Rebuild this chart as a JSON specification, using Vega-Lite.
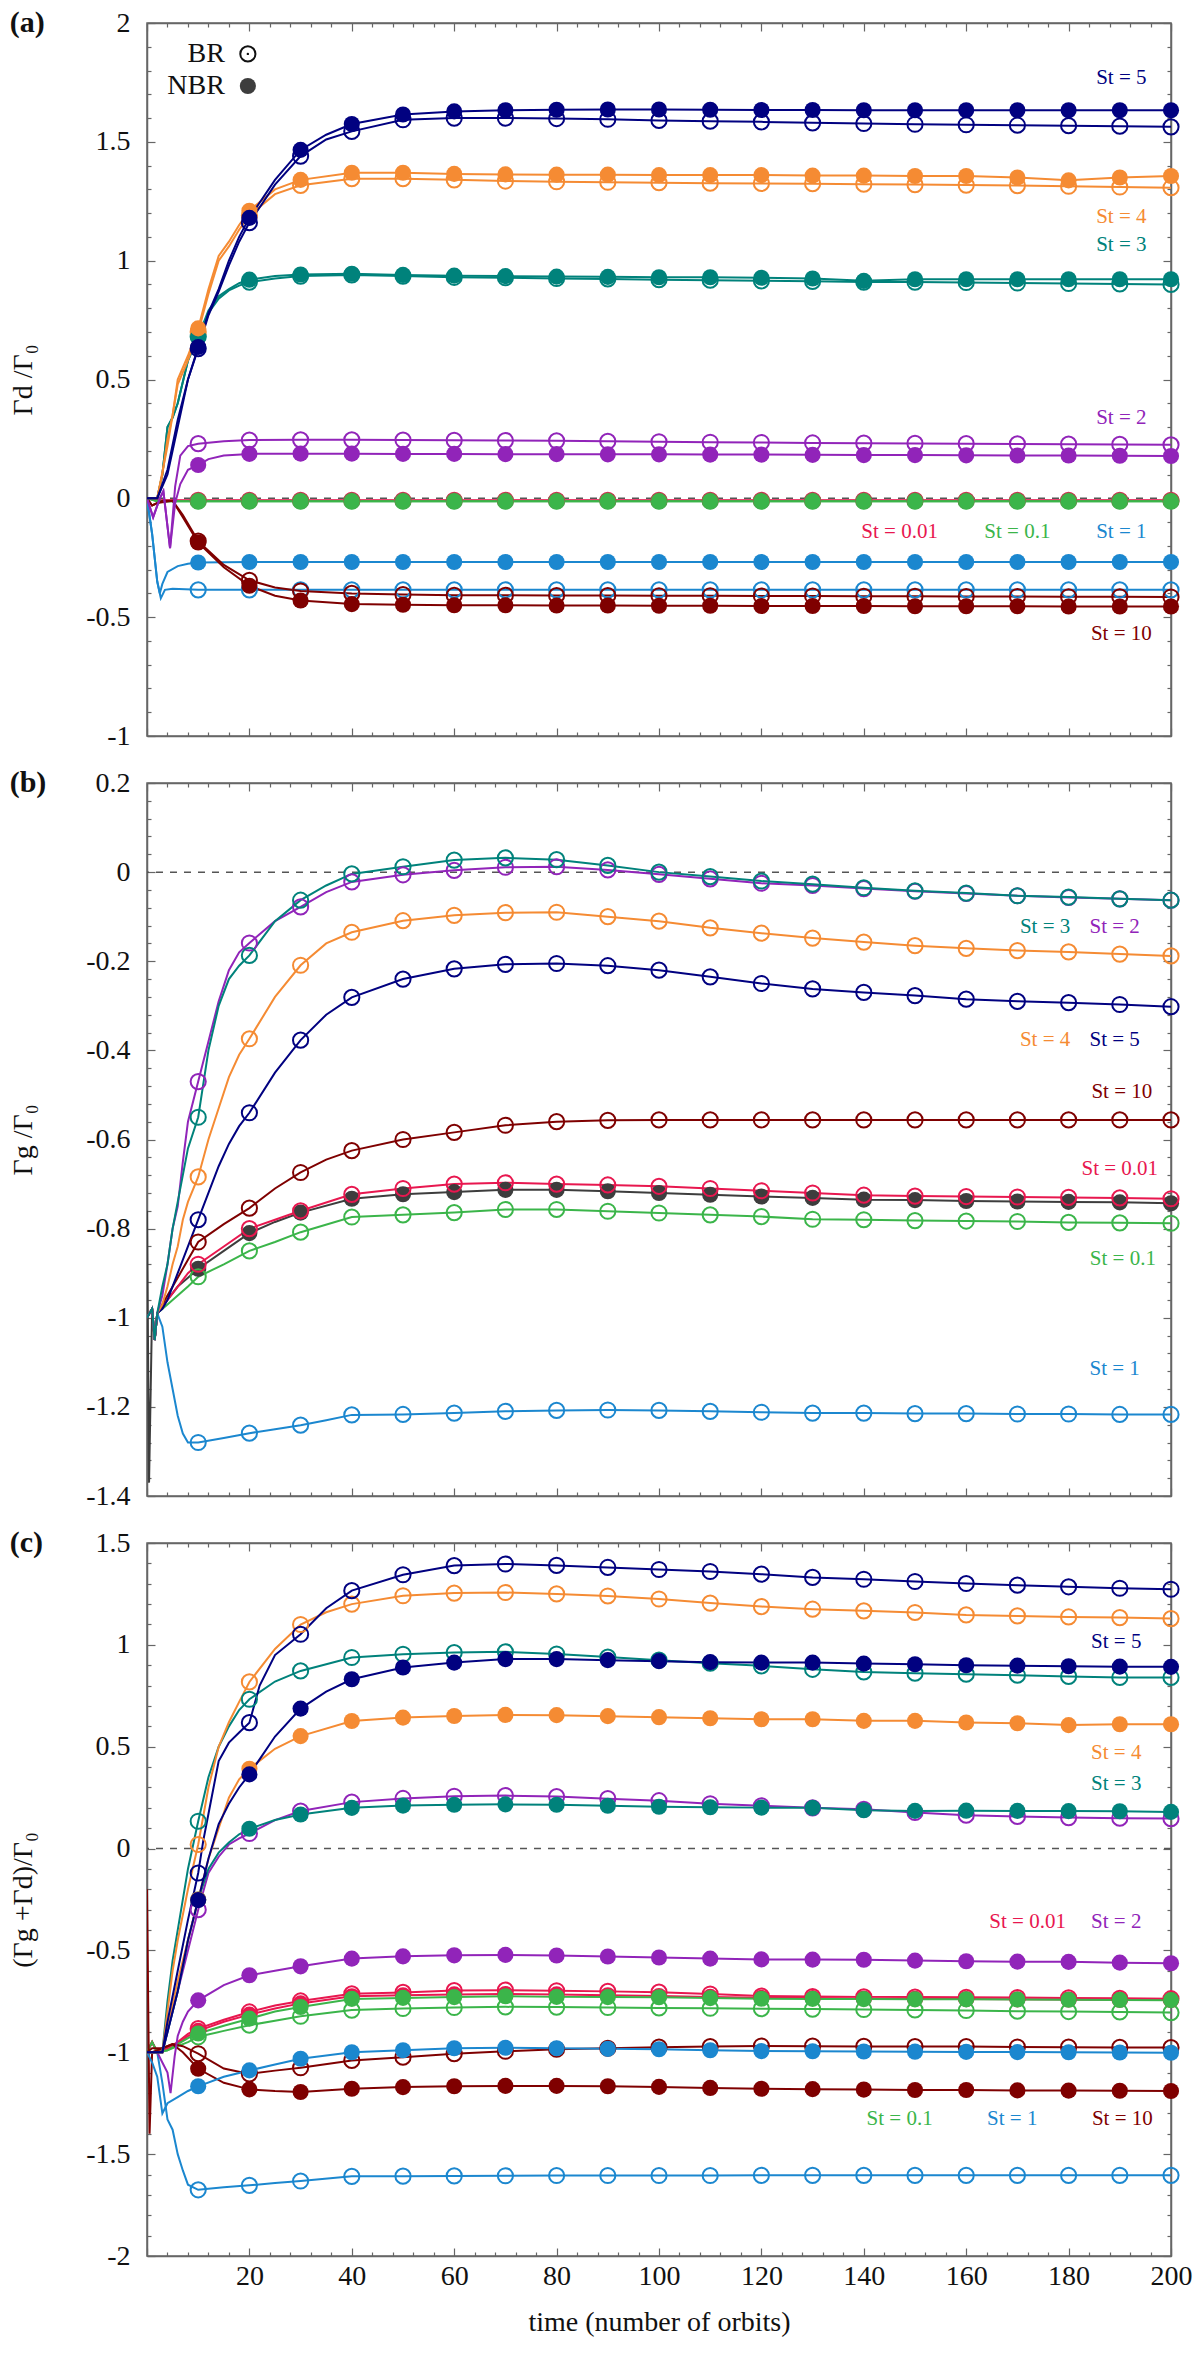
{
  "$schema": "https://vega.github.io/schema/vega-lite/v6.json",
  "background": "white",
  "padding": {"left": 8, "top": 7, "right": 12, "bottom": 8},
  "spacing": 16,
  "config": {
    "font": "Liberation Serif",
    "view": {"stroke": "#666", "strokeWidth": 1.5},
    "axis": {
      "grid": false, "domainColor": "#666", "domainWidth": 1.5, "tickColor": "#666", "tickWidth": 1.2,
      "labelFont": "Liberation Serif", "labelFontSize": 28, "labelColor": "#111",
      "titleFont": "Liberation Serif", "titleFontSize": 28, "titleFontWeight": "normal", "titleColor": "#111",
      "labelOverlap": false, "labelFlush": false
    },
    "title": {"anchor": "start", "frame": "bounds", "font": "Liberation Serif", "fontSize": 30, "fontWeight": "bold", "color": "#111", "baseline": "middle", "offset": -29}
  },
  "datasets": {
    "ax": [{"t": 0, "v": 0}],
    "zero": [{"v": 0}],
    "leg": [
      {"tt": 15.2, "ts": 19.7, "v": 1.87, "txt": "BR", "k": "B"},
      {"tt": 15.2, "ts": 19.7, "v": 1.735, "txt": "NBR", "k": "N"}
    ],
    "labels": [
      {"p": "a", "s": "5", "t": 190.3, "v": 1.767, "txt": "St = 5"},
      {"p": "a", "s": "4", "t": 190.3, "v": 1.184, "txt": "St = 4"},
      {"p": "a", "s": "3", "t": 190.3, "v": 1.066, "txt": "St = 3"},
      {"p": "a", "s": "2", "t": 190.3, "v": 0.34, "txt": "St = 2"},
      {"p": "a", "s": "0.01", "t": 147, "v": -0.14, "txt": "St = 0.01"},
      {"p": "a", "s": "0.1", "t": 170, "v": -0.14, "txt": "St = 0.1"},
      {"p": "a", "s": "1", "t": 190.3, "v": -0.14, "txt": "St = 1"},
      {"p": "a", "s": "10", "t": 190.3, "v": -0.57, "txt": "St = 10"},
      {"p": "b", "s": "3", "t": 175.4, "v": -0.123, "txt": "St = 3"},
      {"p": "b", "s": "2", "t": 189, "v": -0.123, "txt": "St = 2"},
      {"p": "b", "s": "4", "t": 175.4, "v": -0.376, "txt": "St = 4"},
      {"p": "b", "s": "5", "t": 189, "v": -0.376, "txt": "St = 5"},
      {"p": "b", "s": "10", "t": 190.4, "v": -0.494, "txt": "St = 10"},
      {"p": "b", "s": "0.01", "t": 190, "v": -0.666, "txt": "St = 0.01"},
      {"p": "b", "s": "0.1", "t": 190.6, "v": -0.868, "txt": "St = 0.1"},
      {"p": "b", "s": "1", "t": 189, "v": -1.115, "txt": "St = 1"},
      {"p": "c", "s": "5", "t": 189.3, "v": 1.014, "txt": "St = 5"},
      {"p": "c", "s": "4", "t": 189.3, "v": 0.468, "txt": "St = 4"},
      {"p": "c", "s": "3", "t": 189.3, "v": 0.316, "txt": "St = 3"},
      {"p": "c", "s": "0.01", "t": 172, "v": -0.361, "txt": "St = 0.01"},
      {"p": "c", "s": "2", "t": 189.3, "v": -0.361, "txt": "St = 2"},
      {"p": "c", "s": "0.1", "t": 147, "v": -1.326, "txt": "St = 0.1"},
      {"p": "c", "s": "1", "t": 169, "v": -1.326, "txt": "St = 1"},
      {"p": "c", "s": "10", "t": 190.5, "v": -1.326, "txt": "St = 10"}
    ],
    "la": [
      {"s":"0.01","k":"B","t":0,"v":0},{"s":"0.01","k":"B","t":2,"v":-0.008},{"s":"0.01","k":"B","t":10,"v":-0.008},{"s":"0.01","k":"B","t":20,"v":-0.008},{"s":"0.01","k":"B","t":30,"v":-0.008},{"s":"0.01","k":"B","t":40,"v":-0.008},{"s":"0.01","k":"B","t":50,"v":-0.008},{"s":"0.01","k":"B","t":60,"v":-0.008},{"s":"0.01","k":"B","t":70,"v":-0.008},{"s":"0.01","k":"B","t":80,"v":-0.008},{"s":"0.01","k":"B","t":90,"v":-0.008},{"s":"0.01","k":"B","t":100,"v":-0.008},{"s":"0.01","k":"B","t":110,"v":-0.008},{"s":"0.01","k":"B","t":120,"v":-0.008},{"s":"0.01","k":"B","t":130,"v":-0.008},{"s":"0.01","k":"B","t":140,"v":-0.008},{"s":"0.01","k":"B","t":150,"v":-0.008},{"s":"0.01","k":"B","t":160,"v":-0.008},{"s":"0.01","k":"B","t":170,"v":-0.008},{"s":"0.01","k":"B","t":180,"v":-0.008},{"s":"0.01","k":"B","t":190,"v":-0.008},{"s":"0.01","k":"B","t":200,"v":-0.008},
      {"s":"0.01","k":"N","t":0,"v":0},{"s":"0.01","k":"N","t":2,"v":-0.01},{"s":"0.01","k":"N","t":10,"v":-0.01},{"s":"0.01","k":"N","t":20,"v":-0.01},{"s":"0.01","k":"N","t":30,"v":-0.01},{"s":"0.01","k":"N","t":40,"v":-0.01},{"s":"0.01","k":"N","t":50,"v":-0.01},{"s":"0.01","k":"N","t":60,"v":-0.01},{"s":"0.01","k":"N","t":70,"v":-0.01},{"s":"0.01","k":"N","t":80,"v":-0.01},{"s":"0.01","k":"N","t":90,"v":-0.01},{"s":"0.01","k":"N","t":100,"v":-0.01},{"s":"0.01","k":"N","t":110,"v":-0.01},{"s":"0.01","k":"N","t":120,"v":-0.01},{"s":"0.01","k":"N","t":130,"v":-0.01},{"s":"0.01","k":"N","t":140,"v":-0.01},{"s":"0.01","k":"N","t":150,"v":-0.01},{"s":"0.01","k":"N","t":160,"v":-0.01},{"s":"0.01","k":"N","t":170,"v":-0.01},{"s":"0.01","k":"N","t":180,"v":-0.01},{"s":"0.01","k":"N","t":190,"v":-0.01},{"s":"0.01","k":"N","t":200,"v":-0.01},
      {"s":"0.1","k":"B","t":0,"v":0},{"s":"0.1","k":"B","t":2,"v":-0.012},{"s":"0.1","k":"B","t":10,"v":-0.012},{"s":"0.1","k":"B","t":20,"v":-0.012},{"s":"0.1","k":"B","t":30,"v":-0.012},{"s":"0.1","k":"B","t":40,"v":-0.012},{"s":"0.1","k":"B","t":50,"v":-0.012},{"s":"0.1","k":"B","t":60,"v":-0.012},{"s":"0.1","k":"B","t":70,"v":-0.012},{"s":"0.1","k":"B","t":80,"v":-0.012},{"s":"0.1","k":"B","t":90,"v":-0.012},{"s":"0.1","k":"B","t":100,"v":-0.012},{"s":"0.1","k":"B","t":110,"v":-0.012},{"s":"0.1","k":"B","t":120,"v":-0.012},{"s":"0.1","k":"B","t":130,"v":-0.012},{"s":"0.1","k":"B","t":140,"v":-0.012},{"s":"0.1","k":"B","t":150,"v":-0.012},{"s":"0.1","k":"B","t":160,"v":-0.012},{"s":"0.1","k":"B","t":170,"v":-0.012},{"s":"0.1","k":"B","t":180,"v":-0.012},{"s":"0.1","k":"B","t":190,"v":-0.012},{"s":"0.1","k":"B","t":200,"v":-0.012},
      {"s":"0.1","k":"N","t":0,"v":0},{"s":"0.1","k":"N","t":2,"v":-0.012},{"s":"0.1","k":"N","t":10,"v":-0.012},{"s":"0.1","k":"N","t":20,"v":-0.012},{"s":"0.1","k":"N","t":30,"v":-0.012},{"s":"0.1","k":"N","t":40,"v":-0.012},{"s":"0.1","k":"N","t":50,"v":-0.012},{"s":"0.1","k":"N","t":60,"v":-0.012},{"s":"0.1","k":"N","t":70,"v":-0.012},{"s":"0.1","k":"N","t":80,"v":-0.012},{"s":"0.1","k":"N","t":90,"v":-0.012},{"s":"0.1","k":"N","t":100,"v":-0.012},{"s":"0.1","k":"N","t":110,"v":-0.012},{"s":"0.1","k":"N","t":120,"v":-0.012},{"s":"0.1","k":"N","t":130,"v":-0.012},{"s":"0.1","k":"N","t":140,"v":-0.012},{"s":"0.1","k":"N","t":150,"v":-0.012},{"s":"0.1","k":"N","t":160,"v":-0.012},{"s":"0.1","k":"N","t":170,"v":-0.012},{"s":"0.1","k":"N","t":180,"v":-0.012},{"s":"0.1","k":"N","t":190,"v":-0.012},{"s":"0.1","k":"N","t":200,"v":-0.012},
      {"s":"1","k":"B","t":0,"v":0},{"s":"1","k":"B","t":1,"v":-0.15},{"s":"1","k":"B","t":2,"v":-0.35},{"s":"1","k":"B","t":2.7,"v":-0.42},{"s":"1","k":"B","t":3.5,"v":-0.385},{"s":"1","k":"B","t":5,"v":-0.38},{"s":"1","k":"B","t":10,"v":-0.385},{"s":"1","k":"B","t":20,"v":-0.385},{"s":"1","k":"B","t":30,"v":-0.385},{"s":"1","k":"B","t":40,"v":-0.385},{"s":"1","k":"B","t":50,"v":-0.385},{"s":"1","k":"B","t":60,"v":-0.385},{"s":"1","k":"B","t":70,"v":-0.385},{"s":"1","k":"B","t":80,"v":-0.385},{"s":"1","k":"B","t":90,"v":-0.385},{"s":"1","k":"B","t":100,"v":-0.385},{"s":"1","k":"B","t":110,"v":-0.385},{"s":"1","k":"B","t":120,"v":-0.385},{"s":"1","k":"B","t":130,"v":-0.385},{"s":"1","k":"B","t":140,"v":-0.385},{"s":"1","k":"B","t":150,"v":-0.385},{"s":"1","k":"B","t":160,"v":-0.385},{"s":"1","k":"B","t":170,"v":-0.385},{"s":"1","k":"B","t":180,"v":-0.385},{"s":"1","k":"B","t":190,"v":-0.385},{"s":"1","k":"B","t":200,"v":-0.385},
      {"s":"1","k":"N","t":0,"v":0},{"s":"1","k":"N","t":1,"v":-0.15},{"s":"1","k":"N","t":2,"v":-0.35},{"s":"1","k":"N","t":2.5,"v":-0.4},{"s":"1","k":"N","t":3,"v":-0.36},{"s":"1","k":"N","t":4,"v":-0.31},{"s":"1","k":"N","t":6,"v":-0.285},{"s":"1","k":"N","t":8,"v":-0.275},{"s":"1","k":"N","t":10,"v":-0.27},{"s":"1","k":"N","t":20,"v":-0.268},{"s":"1","k":"N","t":30,"v":-0.268},{"s":"1","k":"N","t":40,"v":-0.268},{"s":"1","k":"N","t":50,"v":-0.268},{"s":"1","k":"N","t":60,"v":-0.268},{"s":"1","k":"N","t":70,"v":-0.268},{"s":"1","k":"N","t":80,"v":-0.268},{"s":"1","k":"N","t":90,"v":-0.268},{"s":"1","k":"N","t":100,"v":-0.268},{"s":"1","k":"N","t":110,"v":-0.268},{"s":"1","k":"N","t":120,"v":-0.268},{"s":"1","k":"N","t":130,"v":-0.268},{"s":"1","k":"N","t":140,"v":-0.268},{"s":"1","k":"N","t":150,"v":-0.268},{"s":"1","k":"N","t":160,"v":-0.268},{"s":"1","k":"N","t":170,"v":-0.268},{"s":"1","k":"N","t":180,"v":-0.268},{"s":"1","k":"N","t":190,"v":-0.268},{"s":"1","k":"N","t":200,"v":-0.268},
      {"s":"10","k":"B","t":0,"v":0},{"s":"10","k":"B","t":1,"v":-0.03},{"s":"10","k":"B","t":2,"v":-0.02},{"s":"10","k":"B","t":5,"v":-0.01},{"s":"10","k":"B","t":7,"v":-0.07},{"s":"10","k":"B","t":10,"v":-0.18},{"s":"10","k":"B","t":15,"v":-0.28},{"s":"10","k":"B","t":20,"v":-0.345},{"s":"10","k":"B","t":25,"v":-0.375},{"s":"10","k":"B","t":30,"v":-0.39},{"s":"10","k":"B","t":40,"v":-0.4},{"s":"10","k":"B","t":50,"v":-0.405},{"s":"10","k":"B","t":60,"v":-0.408},{"s":"10","k":"B","t":70,"v":-0.408},{"s":"10","k":"B","t":80,"v":-0.409},{"s":"10","k":"B","t":90,"v":-0.409},{"s":"10","k":"B","t":100,"v":-0.41},{"s":"10","k":"B","t":110,"v":-0.41},{"s":"10","k":"B","t":120,"v":-0.411},{"s":"10","k":"B","t":130,"v":-0.411},{"s":"10","k":"B","t":140,"v":-0.412},{"s":"10","k":"B","t":150,"v":-0.412},{"s":"10","k":"B","t":160,"v":-0.413},{"s":"10","k":"B","t":170,"v":-0.413},{"s":"10","k":"B","t":180,"v":-0.414},{"s":"10","k":"B","t":190,"v":-0.414},{"s":"10","k":"B","t":200,"v":-0.415},
      {"s":"10","k":"N","t":0,"v":0},{"s":"10","k":"N","t":1,"v":-0.03},{"s":"10","k":"N","t":2,"v":-0.02},{"s":"10","k":"N","t":3,"v":-0.01},{"s":"10","k":"N","t":5,"v":-0.01},{"s":"10","k":"N","t":7,"v":-0.08},{"s":"10","k":"N","t":10,"v":-0.186},{"s":"10","k":"N","t":15,"v":-0.29},{"s":"10","k":"N","t":20,"v":-0.368},{"s":"10","k":"N","t":25,"v":-0.41},{"s":"10","k":"N","t":30,"v":-0.43},{"s":"10","k":"N","t":40,"v":-0.445},{"s":"10","k":"N","t":50,"v":-0.448},{"s":"10","k":"N","t":60,"v":-0.45},{"s":"10","k":"N","t":70,"v":-0.45},{"s":"10","k":"N","t":80,"v":-0.451},{"s":"10","k":"N","t":90,"v":-0.451},{"s":"10","k":"N","t":100,"v":-0.452},{"s":"10","k":"N","t":110,"v":-0.452},{"s":"10","k":"N","t":120,"v":-0.453},{"s":"10","k":"N","t":130,"v":-0.453},{"s":"10","k":"N","t":140,"v":-0.453},{"s":"10","k":"N","t":150,"v":-0.454},{"s":"10","k":"N","t":160,"v":-0.454},{"s":"10","k":"N","t":170,"v":-0.454},{"s":"10","k":"N","t":180,"v":-0.455},{"s":"10","k":"N","t":190,"v":-0.455},{"s":"10","k":"N","t":200,"v":-0.455},
      {"s":"2","k":"B","t":0,"v":0},{"s":"2","k":"B","t":1.2,"v":-0.08},{"s":"2","k":"B","t":2.5,"v":0},{"s":"2","k":"B","t":3.2,"v":0.03},{"s":"2","k":"B","t":4.5,"v":-0.21},{"s":"2","k":"B","t":5.5,"v":0.05},{"s":"2","k":"B","t":6.5,"v":0.18},{"s":"2","k":"B","t":8,"v":0.22},{"s":"2","k":"B","t":10,"v":0.23},{"s":"2","k":"B","t":15,"v":0.24},{"s":"2","k":"B","t":20,"v":0.245},{"s":"2","k":"B","t":30,"v":0.246},{"s":"2","k":"B","t":40,"v":0.246},{"s":"2","k":"B","t":50,"v":0.245},{"s":"2","k":"B","t":60,"v":0.244},{"s":"2","k":"B","t":70,"v":0.243},{"s":"2","k":"B","t":80,"v":0.242},{"s":"2","k":"B","t":90,"v":0.24},{"s":"2","k":"B","t":100,"v":0.238},{"s":"2","k":"B","t":110,"v":0.236},{"s":"2","k":"B","t":120,"v":0.235},{"s":"2","k":"B","t":130,"v":0.233},{"s":"2","k":"B","t":140,"v":0.232},{"s":"2","k":"B","t":150,"v":0.231},{"s":"2","k":"B","t":160,"v":0.23},{"s":"2","k":"B","t":170,"v":0.229},{"s":"2","k":"B","t":180,"v":0.228},{"s":"2","k":"B","t":190,"v":0.227},{"s":"2","k":"B","t":200,"v":0.225},
      {"s":"2","k":"N","t":0,"v":0},{"s":"2","k":"N","t":1.2,"v":-0.08},{"s":"2","k":"N","t":2.5,"v":0},{"s":"2","k":"N","t":3.2,"v":0.03},{"s":"2","k":"N","t":4.5,"v":-0.21},{"s":"2","k":"N","t":5.5,"v":-0.02},{"s":"2","k":"N","t":6.5,"v":0.06},{"s":"2","k":"N","t":8,"v":0.12},{"s":"2","k":"N","t":10,"v":0.14},{"s":"2","k":"N","t":12,"v":0.165},{"s":"2","k":"N","t":15,"v":0.18},{"s":"2","k":"N","t":20,"v":0.187},{"s":"2","k":"N","t":30,"v":0.188},{"s":"2","k":"N","t":40,"v":0.188},{"s":"2","k":"N","t":50,"v":0.187},{"s":"2","k":"N","t":60,"v":0.187},{"s":"2","k":"N","t":70,"v":0.186},{"s":"2","k":"N","t":80,"v":0.186},{"s":"2","k":"N","t":90,"v":0.185},{"s":"2","k":"N","t":100,"v":0.185},{"s":"2","k":"N","t":110,"v":0.184},{"s":"2","k":"N","t":120,"v":0.184},{"s":"2","k":"N","t":130,"v":0.183},{"s":"2","k":"N","t":140,"v":0.182},{"s":"2","k":"N","t":150,"v":0.182},{"s":"2","k":"N","t":160,"v":0.181},{"s":"2","k":"N","t":170,"v":0.18},{"s":"2","k":"N","t":180,"v":0.18},{"s":"2","k":"N","t":190,"v":0.179},{"s":"2","k":"N","t":200,"v":0.178},
      {"s":"3","k":"B","t":0,"v":0},{"s":"3","k":"B","t":2,"v":0},{"s":"3","k":"B","t":3,"v":0.1},{"s":"3","k":"B","t":4,"v":0.3},{"s":"3","k":"B","t":5,"v":0.34},{"s":"3","k":"B","t":6,"v":0.4},{"s":"3","k":"B","t":8,"v":0.58},{"s":"3","k":"B","t":10,"v":0.68},{"s":"3","k":"B","t":12,"v":0.78},{"s":"3","k":"B","t":14,"v":0.84},{"s":"3","k":"B","t":16,"v":0.875},{"s":"3","k":"B","t":18,"v":0.895},{"s":"3","k":"B","t":20,"v":0.91},{"s":"3","k":"B","t":25,"v":0.925},{"s":"3","k":"B","t":30,"v":0.935},{"s":"3","k":"B","t":40,"v":0.94},{"s":"3","k":"B","t":50,"v":0.935},{"s":"3","k":"B","t":60,"v":0.93},{"s":"3","k":"B","t":70,"v":0.928},{"s":"3","k":"B","t":80,"v":0.925},{"s":"3","k":"B","t":90,"v":0.923},{"s":"3","k":"B","t":100,"v":0.92},{"s":"3","k":"B","t":110,"v":0.918},{"s":"3","k":"B","t":120,"v":0.915},{"s":"3","k":"B","t":130,"v":0.913},{"s":"3","k":"B","t":140,"v":0.91},{"s":"3","k":"B","t":150,"v":0.91},{"s":"3","k":"B","t":160,"v":0.908},{"s":"3","k":"B","t":170,"v":0.906},{"s":"3","k":"B","t":180,"v":0.904},{"s":"3","k":"B","t":190,"v":0.902},{"s":"3","k":"B","t":200,"v":0.9},
      {"s":"3","k":"N","t":0,"v":0},{"s":"3","k":"N","t":2,"v":0},{"s":"3","k":"N","t":3,"v":0.1},{"s":"3","k":"N","t":4,"v":0.3},{"s":"3","k":"N","t":5,"v":0.34},{"s":"3","k":"N","t":6,"v":0.4},{"s":"3","k":"N","t":8,"v":0.58},{"s":"3","k":"N","t":10,"v":0.68},{"s":"3","k":"N","t":12,"v":0.79},{"s":"3","k":"N","t":14,"v":0.85},{"s":"3","k":"N","t":16,"v":0.88},{"s":"3","k":"N","t":18,"v":0.905},{"s":"3","k":"N","t":20,"v":0.92},{"s":"3","k":"N","t":25,"v":0.935},{"s":"3","k":"N","t":30,"v":0.942},{"s":"3","k":"N","t":40,"v":0.945},{"s":"3","k":"N","t":50,"v":0.94},{"s":"3","k":"N","t":60,"v":0.937},{"s":"3","k":"N","t":70,"v":0.935},{"s":"3","k":"N","t":80,"v":0.933},{"s":"3","k":"N","t":90,"v":0.932},{"s":"3","k":"N","t":100,"v":0.93},{"s":"3","k":"N","t":110,"v":0.93},{"s":"3","k":"N","t":120,"v":0.928},{"s":"3","k":"N","t":130,"v":0.925},{"s":"3","k":"N","t":140,"v":0.915},{"s":"3","k":"N","t":150,"v":0.922},{"s":"3","k":"N","t":160,"v":0.922},{"s":"3","k":"N","t":170,"v":0.922},{"s":"3","k":"N","t":180,"v":0.922},{"s":"3","k":"N","t":190,"v":0.922},{"s":"3","k":"N","t":200,"v":0.922},
      {"s":"4","k":"B","t":0,"v":0},{"s":"4","k":"B","t":2,"v":0},{"s":"4","k":"B","t":4,"v":0.22},{"s":"4","k":"B","t":6,"v":0.48},{"s":"4","k":"B","t":8,"v":0.58},{"s":"4","k":"B","t":10,"v":0.7},{"s":"4","k":"B","t":12,"v":0.86},{"s":"4","k":"B","t":14,"v":1.0},{"s":"4","k":"B","t":16,"v":1.06},{"s":"4","k":"B","t":18,"v":1.13},{"s":"4","k":"B","t":20,"v":1.19},{"s":"4","k":"B","t":25,"v":1.28},{"s":"4","k":"B","t":30,"v":1.317},{"s":"4","k":"B","t":40,"v":1.345},{"s":"4","k":"B","t":50,"v":1.345},{"s":"4","k":"B","t":60,"v":1.34},{"s":"4","k":"B","t":70,"v":1.335},{"s":"4","k":"B","t":80,"v":1.332},{"s":"4","k":"B","t":90,"v":1.33},{"s":"4","k":"B","t":100,"v":1.328},{"s":"4","k":"B","t":110,"v":1.326},{"s":"4","k":"B","t":120,"v":1.325},{"s":"4","k":"B","t":130,"v":1.324},{"s":"4","k":"B","t":140,"v":1.322},{"s":"4","k":"B","t":150,"v":1.32},{"s":"4","k":"B","t":160,"v":1.318},{"s":"4","k":"B","t":170,"v":1.316},{"s":"4","k":"B","t":180,"v":1.313},{"s":"4","k":"B","t":190,"v":1.31},{"s":"4","k":"B","t":200,"v":1.307},
      {"s":"4","k":"N","t":0,"v":0},{"s":"4","k":"N","t":2,"v":0},{"s":"4","k":"N","t":3,"v":0.1},{"s":"4","k":"N","t":4,"v":0.25},{"s":"4","k":"N","t":5,"v":0.35},{"s":"4","k":"N","t":6,"v":0.5},{"s":"4","k":"N","t":8,"v":0.6},{"s":"4","k":"N","t":10,"v":0.715},{"s":"4","k":"N","t":12,"v":0.88},{"s":"4","k":"N","t":14,"v":1.02},{"s":"4","k":"N","t":16,"v":1.08},{"s":"4","k":"N","t":18,"v":1.15},{"s":"4","k":"N","t":20,"v":1.21},{"s":"4","k":"N","t":25,"v":1.3},{"s":"4","k":"N","t":30,"v":1.34},{"s":"4","k":"N","t":40,"v":1.37},{"s":"4","k":"N","t":50,"v":1.37},{"s":"4","k":"N","t":60,"v":1.365},{"s":"4","k":"N","t":70,"v":1.363},{"s":"4","k":"N","t":80,"v":1.362},{"s":"4","k":"N","t":90,"v":1.362},{"s":"4","k":"N","t":100,"v":1.36},{"s":"4","k":"N","t":110,"v":1.36},{"s":"4","k":"N","t":120,"v":1.36},{"s":"4","k":"N","t":130,"v":1.358},{"s":"4","k":"N","t":140,"v":1.358},{"s":"4","k":"N","t":150,"v":1.356},{"s":"4","k":"N","t":160,"v":1.356},{"s":"4","k":"N","t":170,"v":1.35},{"s":"4","k":"N","t":180,"v":1.338},{"s":"4","k":"N","t":190,"v":1.35},{"s":"4","k":"N","t":200,"v":1.356},
      {"s":"5","k":"B","t":0,"v":0},{"s":"5","k":"B","t":2,"v":0},{"s":"5","k":"B","t":4,"v":0.1},{"s":"5","k":"B","t":6,"v":0.3},{"s":"5","k":"B","t":8,"v":0.5},{"s":"5","k":"B","t":10,"v":0.63},{"s":"5","k":"B","t":12,"v":0.77},{"s":"5","k":"B","t":14,"v":0.87},{"s":"5","k":"B","t":16,"v":0.98},{"s":"5","k":"B","t":18,"v":1.08},{"s":"5","k":"B","t":20,"v":1.16},{"s":"5","k":"B","t":25,"v":1.32},{"s":"5","k":"B","t":30,"v":1.44},{"s":"5","k":"B","t":35,"v":1.51},{"s":"5","k":"B","t":40,"v":1.544},{"s":"5","k":"B","t":50,"v":1.593},{"s":"5","k":"B","t":60,"v":1.6},{"s":"5","k":"B","t":70,"v":1.6},{"s":"5","k":"B","t":80,"v":1.598},{"s":"5","k":"B","t":90,"v":1.595},{"s":"5","k":"B","t":100,"v":1.59},{"s":"5","k":"B","t":110,"v":1.587},{"s":"5","k":"B","t":120,"v":1.584},{"s":"5","k":"B","t":130,"v":1.58},{"s":"5","k":"B","t":140,"v":1.577},{"s":"5","k":"B","t":150,"v":1.574},{"s":"5","k":"B","t":160,"v":1.572},{"s":"5","k":"B","t":170,"v":1.57},{"s":"5","k":"B","t":180,"v":1.568},{"s":"5","k":"B","t":190,"v":1.566},{"s":"5","k":"B","t":200,"v":1.563},
      {"s":"5","k":"N","t":0,"v":0},{"s":"5","k":"N","t":2,"v":0},{"s":"5","k":"N","t":4,"v":0.12},{"s":"5","k":"N","t":6,"v":0.33},{"s":"5","k":"N","t":8,"v":0.5},{"s":"5","k":"N","t":10,"v":0.637},{"s":"5","k":"N","t":12,"v":0.78},{"s":"5","k":"N","t":14,"v":0.88},{"s":"5","k":"N","t":16,"v":1.0},{"s":"5","k":"N","t":18,"v":1.1},{"s":"5","k":"N","t":20,"v":1.18},{"s":"5","k":"N","t":25,"v":1.34},{"s":"5","k":"N","t":30,"v":1.466},{"s":"5","k":"N","t":35,"v":1.53},{"s":"5","k":"N","t":40,"v":1.575},{"s":"5","k":"N","t":50,"v":1.615},{"s":"5","k":"N","t":60,"v":1.628},{"s":"5","k":"N","t":70,"v":1.633},{"s":"5","k":"N","t":80,"v":1.635},{"s":"5","k":"N","t":90,"v":1.636},{"s":"5","k":"N","t":100,"v":1.636},{"s":"5","k":"N","t":110,"v":1.635},{"s":"5","k":"N","t":120,"v":1.634},{"s":"5","k":"N","t":130,"v":1.634},{"s":"5","k":"N","t":140,"v":1.633},{"s":"5","k":"N","t":150,"v":1.633},{"s":"5","k":"N","t":160,"v":1.633},{"s":"5","k":"N","t":170,"v":1.633},{"s":"5","k":"N","t":180,"v":1.633},{"s":"5","k":"N","t":190,"v":1.633},{"s":"5","k":"N","t":200,"v":1.633}
    ],
    "lb": [
      {"s":"gas","k":"G","t":0,"v":-0.76},{"s":"gas","k":"G","t":0.4,"v":-1.37},{"s":"gas","k":"G","t":1,"v":-0.98},{"s":"gas","k":"G","t":1.5,"v":-1.05},{"s":"gas","k":"G","t":2,"v":-0.99},{"s":"gas","k":"G","t":4,"v":-0.96},{"s":"gas","k":"G","t":6,"v":-0.93},{"s":"gas","k":"G","t":8,"v":-0.91},{"s":"gas","k":"G","t":10,"v":-0.89},{"s":"gas","k":"G","t":15,"v":-0.85},{"s":"gas","k":"G","t":20,"v":-0.81},{"s":"gas","k":"G","t":25,"v":-0.785},{"s":"gas","k":"G","t":30,"v":-0.764},{"s":"gas","k":"G","t":40,"v":-0.733},{"s":"gas","k":"G","t":50,"v":-0.723},{"s":"gas","k":"G","t":60,"v":-0.718},{"s":"gas","k":"G","t":70,"v":-0.713},{"s":"gas","k":"G","t":80,"v":-0.713},{"s":"gas","k":"G","t":90,"v":-0.716},{"s":"gas","k":"G","t":100,"v":-0.72},{"s":"gas","k":"G","t":110,"v":-0.724},{"s":"gas","k":"G","t":120,"v":-0.728},{"s":"gas","k":"G","t":130,"v":-0.731},{"s":"gas","k":"G","t":140,"v":-0.735},{"s":"gas","k":"G","t":150,"v":-0.736},{"s":"gas","k":"G","t":160,"v":-0.738},{"s":"gas","k":"G","t":170,"v":-0.739},{"s":"gas","k":"G","t":180,"v":-0.74},{"s":"gas","k":"G","t":190,"v":-0.741},{"s":"gas","k":"G","t":200,"v":-0.743},
      {"s":"0.1","k":"B","t":0,"v":-1.0},{"s":"0.1","k":"B","t":1,"v":-0.98},{"s":"0.1","k":"B","t":1.5,"v":-1.05},{"s":"0.1","k":"B","t":2,"v":-0.99},{"s":"0.1","k":"B","t":4,"v":-0.97},{"s":"0.1","k":"B","t":6,"v":-0.95},{"s":"0.1","k":"B","t":8,"v":-0.93},{"s":"0.1","k":"B","t":10,"v":-0.908},{"s":"0.1","k":"B","t":15,"v":-0.88},{"s":"0.1","k":"B","t":20,"v":-0.85},{"s":"0.1","k":"B","t":25,"v":-0.83},{"s":"0.1","k":"B","t":30,"v":-0.808},{"s":"0.1","k":"B","t":40,"v":-0.774},{"s":"0.1","k":"B","t":50,"v":-0.769},{"s":"0.1","k":"B","t":60,"v":-0.764},{"s":"0.1","k":"B","t":70,"v":-0.757},{"s":"0.1","k":"B","t":80,"v":-0.757},{"s":"0.1","k":"B","t":90,"v":-0.761},{"s":"0.1","k":"B","t":100,"v":-0.765},{"s":"0.1","k":"B","t":110,"v":-0.769},{"s":"0.1","k":"B","t":120,"v":-0.773},{"s":"0.1","k":"B","t":130,"v":-0.779},{"s":"0.1","k":"B","t":140,"v":-0.78},{"s":"0.1","k":"B","t":150,"v":-0.782},{"s":"0.1","k":"B","t":160,"v":-0.783},{"s":"0.1","k":"B","t":170,"v":-0.784},{"s":"0.1","k":"B","t":180,"v":-0.786},{"s":"0.1","k":"B","t":190,"v":-0.787},{"s":"0.1","k":"B","t":200,"v":-0.788},
      {"s":"0.01","k":"B","t":0,"v":-1.0},{"s":"0.01","k":"B","t":1,"v":-0.98},{"s":"0.01","k":"B","t":1.5,"v":-1.05},{"s":"0.01","k":"B","t":2,"v":-0.99},{"s":"0.01","k":"B","t":4,"v":-0.96},{"s":"0.01","k":"B","t":6,"v":-0.93},{"s":"0.01","k":"B","t":8,"v":-0.9},{"s":"0.01","k":"B","t":10,"v":-0.88},{"s":"0.01","k":"B","t":15,"v":-0.84},{"s":"0.01","k":"B","t":20,"v":-0.8},{"s":"0.01","k":"B","t":25,"v":-0.78},{"s":"0.01","k":"B","t":30,"v":-0.76},{"s":"0.01","k":"B","t":40,"v":-0.723},{"s":"0.01","k":"B","t":50,"v":-0.71},{"s":"0.01","k":"B","t":60,"v":-0.7},{"s":"0.01","k":"B","t":70,"v":-0.697},{"s":"0.01","k":"B","t":80,"v":-0.7},{"s":"0.01","k":"B","t":90,"v":-0.702},{"s":"0.01","k":"B","t":100,"v":-0.705},{"s":"0.01","k":"B","t":110,"v":-0.71},{"s":"0.01","k":"B","t":120,"v":-0.715},{"s":"0.01","k":"B","t":130,"v":-0.72},{"s":"0.01","k":"B","t":140,"v":-0.725},{"s":"0.01","k":"B","t":150,"v":-0.727},{"s":"0.01","k":"B","t":160,"v":-0.728},{"s":"0.01","k":"B","t":170,"v":-0.729},{"s":"0.01","k":"B","t":180,"v":-0.73},{"s":"0.01","k":"B","t":190,"v":-0.731},{"s":"0.01","k":"B","t":200,"v":-0.733},
      {"s":"1","k":"B","t":0,"v":-1.0},{"s":"1","k":"B","t":1,"v":-0.98},{"s":"1","k":"B","t":1.5,"v":-1.05},{"s":"1","k":"B","t":2,"v":-0.99},{"s":"1","k":"B","t":3,"v":-1.02},{"s":"1","k":"B","t":4,"v":-1.1},{"s":"1","k":"B","t":5,"v":-1.16},{"s":"1","k":"B","t":6,"v":-1.22},{"s":"1","k":"B","t":7,"v":-1.26},{"s":"1","k":"B","t":8,"v":-1.28},{"s":"1","k":"B","t":10,"v":-1.28},{"s":"1","k":"B","t":15,"v":-1.27},{"s":"1","k":"B","t":20,"v":-1.259},{"s":"1","k":"B","t":25,"v":-1.25},{"s":"1","k":"B","t":30,"v":-1.241},{"s":"1","k":"B","t":35,"v":-1.23},{"s":"1","k":"B","t":40,"v":-1.218},{"s":"1","k":"B","t":50,"v":-1.217},{"s":"1","k":"B","t":60,"v":-1.214},{"s":"1","k":"B","t":70,"v":-1.21},{"s":"1","k":"B","t":80,"v":-1.208},{"s":"1","k":"B","t":90,"v":-1.207},{"s":"1","k":"B","t":100,"v":-1.208},{"s":"1","k":"B","t":110,"v":-1.21},{"s":"1","k":"B","t":120,"v":-1.212},{"s":"1","k":"B","t":130,"v":-1.214},{"s":"1","k":"B","t":140,"v":-1.214},{"s":"1","k":"B","t":150,"v":-1.215},{"s":"1","k":"B","t":160,"v":-1.215},{"s":"1","k":"B","t":170,"v":-1.216},{"s":"1","k":"B","t":180,"v":-1.216},{"s":"1","k":"B","t":190,"v":-1.217},{"s":"1","k":"B","t":200,"v":-1.217},
      {"s":"10","k":"B","t":0,"v":-1.0},{"s":"10","k":"B","t":1,"v":-0.98},{"s":"10","k":"B","t":1.5,"v":-1.05},{"s":"10","k":"B","t":2,"v":-0.99},{"s":"10","k":"B","t":4,"v":-0.95},{"s":"10","k":"B","t":6,"v":-0.91},{"s":"10","k":"B","t":8,"v":-0.87},{"s":"10","k":"B","t":10,"v":-0.83},{"s":"10","k":"B","t":15,"v":-0.79},{"s":"10","k":"B","t":20,"v":-0.754},{"s":"10","k":"B","t":25,"v":-0.71},{"s":"10","k":"B","t":30,"v":-0.674},{"s":"10","k":"B","t":35,"v":-0.645},{"s":"10","k":"B","t":40,"v":-0.625},{"s":"10","k":"B","t":50,"v":-0.6},{"s":"10","k":"B","t":60,"v":-0.584},{"s":"10","k":"B","t":70,"v":-0.568},{"s":"10","k":"B","t":80,"v":-0.56},{"s":"10","k":"B","t":90,"v":-0.557},{"s":"10","k":"B","t":100,"v":-0.556},{"s":"10","k":"B","t":110,"v":-0.556},{"s":"10","k":"B","t":120,"v":-0.556},{"s":"10","k":"B","t":130,"v":-0.556},{"s":"10","k":"B","t":140,"v":-0.556},{"s":"10","k":"B","t":150,"v":-0.556},{"s":"10","k":"B","t":160,"v":-0.556},{"s":"10","k":"B","t":170,"v":-0.556},{"s":"10","k":"B","t":180,"v":-0.556},{"s":"10","k":"B","t":190,"v":-0.556},{"s":"10","k":"B","t":200,"v":-0.556},
      {"s":"5","k":"B","t":0,"v":-1.0},{"s":"5","k":"B","t":1,"v":-0.98},{"s":"5","k":"B","t":1.5,"v":-1.05},{"s":"5","k":"B","t":2,"v":-0.99},{"s":"5","k":"B","t":3,"v":-0.98},{"s":"5","k":"B","t":4,"v":-0.96},{"s":"5","k":"B","t":6,"v":-0.9},{"s":"5","k":"B","t":8,"v":-0.84},{"s":"5","k":"B","t":10,"v":-0.78},{"s":"5","k":"B","t":12,"v":-0.72},{"s":"5","k":"B","t":14,"v":-0.66},{"s":"5","k":"B","t":16,"v":-0.61},{"s":"5","k":"B","t":18,"v":-0.57},{"s":"5","k":"B","t":20,"v":-0.54},{"s":"5","k":"B","t":25,"v":-0.45},{"s":"5","k":"B","t":30,"v":-0.377},{"s":"5","k":"B","t":35,"v":-0.32},{"s":"5","k":"B","t":40,"v":-0.281},{"s":"5","k":"B","t":50,"v":-0.24},{"s":"5","k":"B","t":60,"v":-0.217},{"s":"5","k":"B","t":70,"v":-0.207},{"s":"5","k":"B","t":80,"v":-0.205},{"s":"5","k":"B","t":90,"v":-0.21},{"s":"5","k":"B","t":100,"v":-0.22},{"s":"5","k":"B","t":110,"v":-0.235},{"s":"5","k":"B","t":120,"v":-0.25},{"s":"5","k":"B","t":130,"v":-0.262},{"s":"5","k":"B","t":140,"v":-0.27},{"s":"5","k":"B","t":150,"v":-0.277},{"s":"5","k":"B","t":160,"v":-0.285},{"s":"5","k":"B","t":170,"v":-0.29},{"s":"5","k":"B","t":180,"v":-0.293},{"s":"5","k":"B","t":190,"v":-0.297},{"s":"5","k":"B","t":200,"v":-0.302},
      {"s":"4","k":"B","t":0,"v":-1.0},{"s":"4","k":"B","t":1,"v":-0.98},{"s":"4","k":"B","t":1.5,"v":-1.05},{"s":"4","k":"B","t":2,"v":-0.99},{"s":"4","k":"B","t":3,"v":-0.97},{"s":"4","k":"B","t":4,"v":-0.93},{"s":"4","k":"B","t":5,"v":-0.88},{"s":"4","k":"B","t":6,"v":-0.84},{"s":"4","k":"B","t":7,"v":-0.78},{"s":"4","k":"B","t":8,"v":-0.74},{"s":"4","k":"B","t":10,"v":-0.684},{"s":"4","k":"B","t":12,"v":-0.6},{"s":"4","k":"B","t":14,"v":-0.53},{"s":"4","k":"B","t":16,"v":-0.46},{"s":"4","k":"B","t":18,"v":-0.41},{"s":"4","k":"B","t":20,"v":-0.374},{"s":"4","k":"B","t":25,"v":-0.28},{"s":"4","k":"B","t":30,"v":-0.209},{"s":"4","k":"B","t":35,"v":-0.16},{"s":"4","k":"B","t":40,"v":-0.135},{"s":"4","k":"B","t":50,"v":-0.109},{"s":"4","k":"B","t":60,"v":-0.097},{"s":"4","k":"B","t":70,"v":-0.091},{"s":"4","k":"B","t":80,"v":-0.09},{"s":"4","k":"B","t":90,"v":-0.1},{"s":"4","k":"B","t":100,"v":-0.11},{"s":"4","k":"B","t":110,"v":-0.125},{"s":"4","k":"B","t":120,"v":-0.137},{"s":"4","k":"B","t":130,"v":-0.148},{"s":"4","k":"B","t":140,"v":-0.157},{"s":"4","k":"B","t":150,"v":-0.165},{"s":"4","k":"B","t":160,"v":-0.171},{"s":"4","k":"B","t":170,"v":-0.176},{"s":"4","k":"B","t":180,"v":-0.179},{"s":"4","k":"B","t":190,"v":-0.184},{"s":"4","k":"B","t":200,"v":-0.188},
      {"s":"2","k":"B","t":0,"v":-1.0},{"s":"2","k":"B","t":1,"v":-0.98},{"s":"2","k":"B","t":1.5,"v":-1.05},{"s":"2","k":"B","t":2,"v":-0.99},{"s":"2","k":"B","t":3,"v":-0.95},{"s":"2","k":"B","t":4,"v":-0.88},{"s":"2","k":"B","t":5,"v":-0.8},{"s":"2","k":"B","t":6,"v":-0.75},{"s":"2","k":"B","t":7,"v":-0.65},{"s":"2","k":"B","t":8,"v":-0.56},{"s":"2","k":"B","t":10,"v":-0.47},{"s":"2","k":"B","t":12,"v":-0.38},{"s":"2","k":"B","t":14,"v":-0.29},{"s":"2","k":"B","t":16,"v":-0.22},{"s":"2","k":"B","t":18,"v":-0.18},{"s":"2","k":"B","t":20,"v":-0.159},{"s":"2","k":"B","t":25,"v":-0.11},{"s":"2","k":"B","t":30,"v":-0.078},{"s":"2","k":"B","t":35,"v":-0.045},{"s":"2","k":"B","t":40,"v":-0.022},{"s":"2","k":"B","t":50,"v":-0.006},{"s":"2","k":"B","t":60,"v":0.004},{"s":"2","k":"B","t":70,"v":0.011},{"s":"2","k":"B","t":80,"v":0.012},{"s":"2","k":"B","t":90,"v":0.005},{"s":"2","k":"B","t":100,"v":-0.005},{"s":"2","k":"B","t":110,"v":-0.015},{"s":"2","k":"B","t":120,"v":-0.025},{"s":"2","k":"B","t":130,"v":-0.03},{"s":"2","k":"B","t":140,"v":-0.037},{"s":"2","k":"B","t":150,"v":-0.043},{"s":"2","k":"B","t":160,"v":-0.048},{"s":"2","k":"B","t":170,"v":-0.053},{"s":"2","k":"B","t":180,"v":-0.057},{"s":"2","k":"B","t":190,"v":-0.06},{"s":"2","k":"B","t":200,"v":-0.063},
      {"s":"3","k":"B","t":0,"v":-1.0},{"s":"3","k":"B","t":1,"v":-0.98},{"s":"3","k":"B","t":1.5,"v":-1.05},{"s":"3","k":"B","t":2,"v":-0.99},{"s":"3","k":"B","t":3,"v":-0.93},{"s":"3","k":"B","t":4,"v":-0.88},{"s":"3","k":"B","t":5,"v":-0.8},{"s":"3","k":"B","t":6,"v":-0.74},{"s":"3","k":"B","t":7,"v":-0.68},{"s":"3","k":"B","t":8,"v":-0.62},{"s":"3","k":"B","t":10,"v":-0.55},{"s":"3","k":"B","t":12,"v":-0.4},{"s":"3","k":"B","t":14,"v":-0.3},{"s":"3","k":"B","t":16,"v":-0.24},{"s":"3","k":"B","t":18,"v":-0.21},{"s":"3","k":"B","t":20,"v":-0.187},{"s":"3","k":"B","t":25,"v":-0.11},{"s":"3","k":"B","t":30,"v":-0.063},{"s":"3","k":"B","t":35,"v":-0.03},{"s":"3","k":"B","t":40,"v":-0.004},{"s":"3","k":"B","t":50,"v":0.012},{"s":"3","k":"B","t":60,"v":0.027},{"s":"3","k":"B","t":70,"v":0.032},{"s":"3","k":"B","t":80,"v":0.028},{"s":"3","k":"B","t":90,"v":0.015},{"s":"3","k":"B","t":100,"v":0.0},{"s":"3","k":"B","t":110,"v":-0.01},{"s":"3","k":"B","t":120,"v":-0.02},{"s":"3","k":"B","t":130,"v":-0.027},{"s":"3","k":"B","t":140,"v":-0.035},{"s":"3","k":"B","t":150,"v":-0.042},{"s":"3","k":"B","t":160,"v":-0.047},{"s":"3","k":"B","t":170,"v":-0.053},{"s":"3","k":"B","t":180,"v":-0.056},{"s":"3","k":"B","t":190,"v":-0.06},{"s":"3","k":"B","t":200,"v":-0.063}
    ],
    "lc": [
      {"s":"0.1","k":"B","t":0,"v":-1.0},{"s":"0.1","k":"B","t":1,"v":-0.95},{"s":"0.1","k":"B","t":2,"v":-1.0},{"s":"0.1","k":"B","t":4,"v":-0.99},{"s":"0.1","k":"B","t":6,"v":-0.97},{"s":"0.1","k":"B","t":8,"v":-0.95},{"s":"0.1","k":"B","t":10,"v":-0.924},{"s":"0.1","k":"B","t":15,"v":-0.895},{"s":"0.1","k":"B","t":20,"v":-0.867},{"s":"0.1","k":"B","t":25,"v":-0.845},{"s":"0.1","k":"B","t":30,"v":-0.823},{"s":"0.1","k":"B","t":40,"v":-0.793},{"s":"0.1","k":"B","t":50,"v":-0.785},{"s":"0.1","k":"B","t":60,"v":-0.78},{"s":"0.1","k":"B","t":70,"v":-0.777},{"s":"0.1","k":"B","t":80,"v":-0.778},{"s":"0.1","k":"B","t":90,"v":-0.78},{"s":"0.1","k":"B","t":100,"v":-0.782},{"s":"0.1","k":"B","t":110,"v":-0.784},{"s":"0.1","k":"B","t":120,"v":-0.786},{"s":"0.1","k":"B","t":130,"v":-0.788},{"s":"0.1","k":"B","t":140,"v":-0.79},{"s":"0.1","k":"B","t":150,"v":-0.792},{"s":"0.1","k":"B","t":160,"v":-0.795},{"s":"0.1","k":"B","t":170,"v":-0.798},{"s":"0.1","k":"B","t":180,"v":-0.8},{"s":"0.1","k":"B","t":190,"v":-0.802},{"s":"0.1","k":"B","t":200,"v":-0.805},
      {"s":"0.01","k":"B","t":0,"v":-1.0},{"s":"0.01","k":"B","t":1,"v":-0.95},{"s":"0.01","k":"B","t":2,"v":-1.0},{"s":"0.01","k":"B","t":4,"v":-0.98},{"s":"0.01","k":"B","t":6,"v":-0.95},{"s":"0.01","k":"B","t":8,"v":-0.91},{"s":"0.01","k":"B","t":10,"v":-0.884},{"s":"0.01","k":"B","t":15,"v":-0.84},{"s":"0.01","k":"B","t":20,"v":-0.802},{"s":"0.01","k":"B","t":25,"v":-0.77},{"s":"0.01","k":"B","t":30,"v":-0.748},{"s":"0.01","k":"B","t":40,"v":-0.713},{"s":"0.01","k":"B","t":50,"v":-0.706},{"s":"0.01","k":"B","t":60,"v":-0.697},{"s":"0.01","k":"B","t":70,"v":-0.695},{"s":"0.01","k":"B","t":80,"v":-0.698},{"s":"0.01","k":"B","t":90,"v":-0.701},{"s":"0.01","k":"B","t":100,"v":-0.705},{"s":"0.01","k":"B","t":110,"v":-0.714},{"s":"0.01","k":"B","t":120,"v":-0.724},{"s":"0.01","k":"B","t":130,"v":-0.726},{"s":"0.01","k":"B","t":140,"v":-0.728},{"s":"0.01","k":"B","t":150,"v":-0.729},{"s":"0.01","k":"B","t":160,"v":-0.73},{"s":"0.01","k":"B","t":170,"v":-0.731},{"s":"0.01","k":"B","t":180,"v":-0.733},{"s":"0.01","k":"B","t":190,"v":-0.735},{"s":"0.01","k":"B","t":200,"v":-0.737},
      {"s":"0.01","k":"N","t":0,"v":-1.0},{"s":"0.01","k":"N","t":1,"v":-0.95},{"s":"0.01","k":"N","t":2,"v":-1.0},{"s":"0.01","k":"N","t":4,"v":-0.98},{"s":"0.01","k":"N","t":6,"v":-0.96},{"s":"0.01","k":"N","t":8,"v":-0.92},{"s":"0.01","k":"N","t":10,"v":-0.895},{"s":"0.01","k":"N","t":15,"v":-0.85},{"s":"0.01","k":"N","t":20,"v":-0.815},{"s":"0.01","k":"N","t":25,"v":-0.785},{"s":"0.01","k":"N","t":30,"v":-0.76},{"s":"0.01","k":"N","t":40,"v":-0.725},{"s":"0.01","k":"N","t":50,"v":-0.72},{"s":"0.01","k":"N","t":60,"v":-0.716},{"s":"0.01","k":"N","t":70,"v":-0.714},{"s":"0.01","k":"N","t":80,"v":-0.716},{"s":"0.01","k":"N","t":90,"v":-0.72},{"s":"0.01","k":"N","t":100,"v":-0.724},{"s":"0.01","k":"N","t":110,"v":-0.728},{"s":"0.01","k":"N","t":120,"v":-0.732},{"s":"0.01","k":"N","t":130,"v":-0.734},{"s":"0.01","k":"N","t":140,"v":-0.736},{"s":"0.01","k":"N","t":150,"v":-0.738},{"s":"0.01","k":"N","t":160,"v":-0.739},{"s":"0.01","k":"N","t":170,"v":-0.74},{"s":"0.01","k":"N","t":180,"v":-0.741},{"s":"0.01","k":"N","t":190,"v":-0.742},{"s":"0.01","k":"N","t":200,"v":-0.743},
      {"s":"0.1","k":"N","t":0,"v":-1.0},{"s":"0.1","k":"N","t":1,"v":-0.95},{"s":"0.1","k":"N","t":2,"v":-1.0},{"s":"0.1","k":"N","t":4,"v":-0.99},{"s":"0.1","k":"N","t":6,"v":-0.96},{"s":"0.1","k":"N","t":8,"v":-0.93},{"s":"0.1","k":"N","t":10,"v":-0.908},{"s":"0.1","k":"N","t":15,"v":-0.87},{"s":"0.1","k":"N","t":20,"v":-0.835},{"s":"0.1","k":"N","t":25,"v":-0.8},{"s":"0.1","k":"N","t":30,"v":-0.778},{"s":"0.1","k":"N","t":40,"v":-0.738},{"s":"0.1","k":"N","t":50,"v":-0.733},{"s":"0.1","k":"N","t":60,"v":-0.729},{"s":"0.1","k":"N","t":70,"v":-0.725},{"s":"0.1","k":"N","t":80,"v":-0.728},{"s":"0.1","k":"N","t":90,"v":-0.729},{"s":"0.1","k":"N","t":100,"v":-0.73},{"s":"0.1","k":"N","t":110,"v":-0.734},{"s":"0.1","k":"N","t":120,"v":-0.737},{"s":"0.1","k":"N","t":130,"v":-0.738},{"s":"0.1","k":"N","t":140,"v":-0.739},{"s":"0.1","k":"N","t":150,"v":-0.74},{"s":"0.1","k":"N","t":160,"v":-0.74},{"s":"0.1","k":"N","t":170,"v":-0.741},{"s":"0.1","k":"N","t":180,"v":-0.742},{"s":"0.1","k":"N","t":190,"v":-0.743},{"s":"0.1","k":"N","t":200,"v":-0.744},
      {"s":"10","k":"B","t":0,"v":-0.2},{"s":"10","k":"B","t":0.5,"v":-1.4},{"s":"10","k":"B","t":1,"v":-1.0},{"s":"10","k":"B","t":3,"v":-0.98},{"s":"10","k":"B","t":5,"v":-0.96},{"s":"10","k":"B","t":7,"v":-0.97},{"s":"10","k":"B","t":10,"v":-1.007},{"s":"10","k":"B","t":15,"v":-1.08},{"s":"10","k":"B","t":20,"v":-1.106},{"s":"10","k":"B","t":25,"v":-1.09},{"s":"10","k":"B","t":30,"v":-1.076},{"s":"10","k":"B","t":40,"v":-1.04},{"s":"10","k":"B","t":50,"v":-1.024},{"s":"10","k":"B","t":60,"v":-1.007},{"s":"10","k":"B","t":70,"v":-0.995},{"s":"10","k":"B","t":80,"v":-0.985},{"s":"10","k":"B","t":90,"v":-0.98},{"s":"10","k":"B","t":100,"v":-0.975},{"s":"10","k":"B","t":110,"v":-0.972},{"s":"10","k":"B","t":120,"v":-0.969},{"s":"10","k":"B","t":130,"v":-0.97},{"s":"10","k":"B","t":140,"v":-0.971},{"s":"10","k":"B","t":150,"v":-0.972},{"s":"10","k":"B","t":160,"v":-0.972},{"s":"10","k":"B","t":170,"v":-0.974},{"s":"10","k":"B","t":180,"v":-0.975},{"s":"10","k":"B","t":190,"v":-0.976},{"s":"10","k":"B","t":200,"v":-0.977},
      {"s":"10","k":"N","t":0,"v":-1.0},{"s":"10","k":"N","t":1,"v":-0.98},{"s":"10","k":"N","t":3,"v":-0.98},{"s":"10","k":"N","t":5,"v":-0.96},{"s":"10","k":"N","t":7,"v":-1.0},{"s":"10","k":"N","t":10,"v":-1.081},{"s":"10","k":"N","t":15,"v":-1.15},{"s":"10","k":"N","t":20,"v":-1.182},{"s":"10","k":"N","t":25,"v":-1.19},{"s":"10","k":"N","t":30,"v":-1.195},{"s":"10","k":"N","t":40,"v":-1.179},{"s":"10","k":"N","t":50,"v":-1.171},{"s":"10","k":"N","t":60,"v":-1.167},{"s":"10","k":"N","t":70,"v":-1.165},{"s":"10","k":"N","t":80,"v":-1.165},{"s":"10","k":"N","t":90,"v":-1.167},{"s":"10","k":"N","t":100,"v":-1.17},{"s":"10","k":"N","t":110,"v":-1.175},{"s":"10","k":"N","t":120,"v":-1.179},{"s":"10","k":"N","t":130,"v":-1.181},{"s":"10","k":"N","t":140,"v":-1.183},{"s":"10","k":"N","t":150,"v":-1.185},{"s":"10","k":"N","t":160,"v":-1.185},{"s":"10","k":"N","t":170,"v":-1.187},{"s":"10","k":"N","t":180,"v":-1.188},{"s":"10","k":"N","t":190,"v":-1.189},{"s":"10","k":"N","t":200,"v":-1.19},
      {"s":"1","k":"B","t":0,"v":-1.0},{"s":"1","k":"B","t":2,"v":-1.0},{"s":"1","k":"B","t":3,"v":-1.15},{"s":"1","k":"B","t":4,"v":-1.33},{"s":"1","k":"B","t":5,"v":-1.38},{"s":"1","k":"B","t":6,"v":-1.5},{"s":"1","k":"B","t":7,"v":-1.58},{"s":"1","k":"B","t":8,"v":-1.65},{"s":"1","k":"B","t":10,"v":-1.675},{"s":"1","k":"B","t":15,"v":-1.662},{"s":"1","k":"B","t":20,"v":-1.653},{"s":"1","k":"B","t":25,"v":-1.642},{"s":"1","k":"B","t":30,"v":-1.632},{"s":"1","k":"B","t":40,"v":-1.609},{"s":"1","k":"B","t":50,"v":-1.608},{"s":"1","k":"B","t":60,"v":-1.607},{"s":"1","k":"B","t":70,"v":-1.606},{"s":"1","k":"B","t":80,"v":-1.605},{"s":"1","k":"B","t":90,"v":-1.605},{"s":"1","k":"B","t":100,"v":-1.605},{"s":"1","k":"B","t":110,"v":-1.605},{"s":"1","k":"B","t":120,"v":-1.604},{"s":"1","k":"B","t":130,"v":-1.604},{"s":"1","k":"B","t":140,"v":-1.604},{"s":"1","k":"B","t":150,"v":-1.604},{"s":"1","k":"B","t":160,"v":-1.604},{"s":"1","k":"B","t":170,"v":-1.604},{"s":"1","k":"B","t":180,"v":-1.604},{"s":"1","k":"B","t":190,"v":-1.604},{"s":"1","k":"B","t":200,"v":-1.604},
      {"s":"1","k":"N","t":0,"v":-1.0},{"s":"1","k":"N","t":1,"v":-1.05},{"s":"1","k":"N","t":2,"v":-1.12},{"s":"1","k":"N","t":3,"v":-1.3},{"s":"1","k":"N","t":4,"v":-1.25},{"s":"1","k":"N","t":6,"v":-1.22},{"s":"1","k":"N","t":8,"v":-1.19},{"s":"1","k":"N","t":10,"v":-1.167},{"s":"1","k":"N","t":15,"v":-1.12},{"s":"1","k":"N","t":20,"v":-1.089},{"s":"1","k":"N","t":25,"v":-1.06},{"s":"1","k":"N","t":30,"v":-1.032},{"s":"1","k":"N","t":40,"v":-1.0},{"s":"1","k":"N","t":50,"v":-0.99},{"s":"1","k":"N","t":60,"v":-0.98},{"s":"1","k":"N","t":70,"v":-0.978},{"s":"1","k":"N","t":80,"v":-0.98},{"s":"1","k":"N","t":90,"v":-0.983},{"s":"1","k":"N","t":100,"v":-0.985},{"s":"1","k":"N","t":110,"v":-0.99},{"s":"1","k":"N","t":120,"v":-0.994},{"s":"1","k":"N","t":130,"v":-0.995},{"s":"1","k":"N","t":140,"v":-0.996},{"s":"1","k":"N","t":150,"v":-0.997},{"s":"1","k":"N","t":160,"v":-0.998},{"s":"1","k":"N","t":170,"v":-0.999},{"s":"1","k":"N","t":180,"v":-1.0},{"s":"1","k":"N","t":190,"v":-1.001},{"s":"1","k":"N","t":200,"v":-1.002},
      {"s":"2","k":"N","t":0,"v":-1.0},{"s":"2","k":"N","t":2,"v":-1.0},{"s":"2","k":"N","t":3,"v":-1.05},{"s":"2","k":"N","t":4,"v":-1.1},{"s":"2","k":"N","t":4.6,"v":-1.2},{"s":"2","k":"N","t":5.4,"v":-1.02},{"s":"2","k":"N","t":6,"v":-0.92},{"s":"2","k":"N","t":7,"v":-0.85},{"s":"2","k":"N","t":8,"v":-0.8},{"s":"2","k":"N","t":10,"v":-0.745},{"s":"2","k":"N","t":15,"v":-0.67},{"s":"2","k":"N","t":20,"v":-0.622},{"s":"2","k":"N","t":25,"v":-0.6},{"s":"2","k":"N","t":30,"v":-0.578},{"s":"2","k":"N","t":40,"v":-0.54},{"s":"2","k":"N","t":50,"v":-0.529},{"s":"2","k":"N","t":60,"v":-0.524},{"s":"2","k":"N","t":70,"v":-0.522},{"s":"2","k":"N","t":80,"v":-0.525},{"s":"2","k":"N","t":90,"v":-0.53},{"s":"2","k":"N","t":100,"v":-0.535},{"s":"2","k":"N","t":110,"v":-0.54},{"s":"2","k":"N","t":120,"v":-0.544},{"s":"2","k":"N","t":130,"v":-0.545},{"s":"2","k":"N","t":140,"v":-0.546},{"s":"2","k":"N","t":150,"v":-0.55},{"s":"2","k":"N","t":160,"v":-0.553},{"s":"2","k":"N","t":170,"v":-0.555},{"s":"2","k":"N","t":180,"v":-0.556},{"s":"2","k":"N","t":190,"v":-0.56},{"s":"2","k":"N","t":200,"v":-0.563},
      {"s":"2","k":"B","t":0,"v":-1.0},{"s":"2","k":"B","t":2,"v":-1.0},{"s":"2","k":"B","t":3,"v":-1.0},{"s":"2","k":"B","t":4,"v":-0.9},{"s":"2","k":"B","t":6,"v":-0.7},{"s":"2","k":"B","t":8,"v":-0.5},{"s":"2","k":"B","t":10,"v":-0.3},{"s":"2","k":"B","t":12,"v":-0.12},{"s":"2","k":"B","t":14,"v":-0.04},{"s":"2","k":"B","t":16,"v":0.02},{"s":"2","k":"B","t":18,"v":0.05},{"s":"2","k":"B","t":20,"v":0.074},{"s":"2","k":"B","t":25,"v":0.14},{"s":"2","k":"B","t":30,"v":0.184},{"s":"2","k":"B","t":40,"v":0.228},{"s":"2","k":"B","t":50,"v":0.246},{"s":"2","k":"B","t":60,"v":0.257},{"s":"2","k":"B","t":70,"v":0.26},{"s":"2","k":"B","t":80,"v":0.255},{"s":"2","k":"B","t":90,"v":0.245},{"s":"2","k":"B","t":100,"v":0.235},{"s":"2","k":"B","t":110,"v":0.22},{"s":"2","k":"B","t":120,"v":0.21},{"s":"2","k":"B","t":130,"v":0.2},{"s":"2","k":"B","t":140,"v":0.193},{"s":"2","k":"B","t":150,"v":0.177},{"s":"2","k":"B","t":160,"v":0.164},{"s":"2","k":"B","t":170,"v":0.158},{"s":"2","k":"B","t":180,"v":0.152},{"s":"2","k":"B","t":190,"v":0.149},{"s":"2","k":"B","t":200,"v":0.147},
      {"s":"3","k":"N","t":0,"v":-1.0},{"s":"3","k":"N","t":2,"v":-1.0},{"s":"3","k":"N","t":3,"v":-1.0},{"s":"3","k":"N","t":4,"v":-0.9},{"s":"3","k":"N","t":6,"v":-0.7},{"s":"3","k":"N","t":8,"v":-0.45},{"s":"3","k":"N","t":10,"v":-0.25},{"s":"3","k":"N","t":12,"v":-0.1},{"s":"3","k":"N","t":14,"v":-0.02},{"s":"3","k":"N","t":16,"v":0.03},{"s":"3","k":"N","t":18,"v":0.07},{"s":"3","k":"N","t":20,"v":0.097},{"s":"3","k":"N","t":25,"v":0.14},{"s":"3","k":"N","t":30,"v":0.167},{"s":"3","k":"N","t":40,"v":0.2},{"s":"3","k":"N","t":50,"v":0.211},{"s":"3","k":"N","t":60,"v":0.215},{"s":"3","k":"N","t":70,"v":0.217},{"s":"3","k":"N","t":80,"v":0.215},{"s":"3","k":"N","t":90,"v":0.21},{"s":"3","k":"N","t":100,"v":0.205},{"s":"3","k":"N","t":110,"v":0.203},{"s":"3","k":"N","t":120,"v":0.201},{"s":"3","k":"N","t":130,"v":0.2},{"s":"3","k":"N","t":140,"v":0.188},{"s":"3","k":"N","t":150,"v":0.185},{"s":"3","k":"N","t":160,"v":0.186},{"s":"3","k":"N","t":170,"v":0.185},{"s":"3","k":"N","t":180,"v":0.184},{"s":"3","k":"N","t":190,"v":0.183},{"s":"3","k":"N","t":200,"v":0.18},
      {"s":"3","k":"B","t":0,"v":-1.0},{"s":"3","k":"B","t":2,"v":-1.0},{"s":"3","k":"B","t":3,"v":-1.0},{"s":"3","k":"B","t":4,"v":-0.75},{"s":"3","k":"B","t":5,"v":-0.55},{"s":"3","k":"B","t":6,"v":-0.4},{"s":"3","k":"B","t":8,"v":-0.1},{"s":"3","k":"B","t":10,"v":0.134},{"s":"3","k":"B","t":12,"v":0.35},{"s":"3","k":"B","t":14,"v":0.5},{"s":"3","k":"B","t":16,"v":0.6},{"s":"3","k":"B","t":18,"v":0.68},{"s":"3","k":"B","t":20,"v":0.733},{"s":"3","k":"B","t":25,"v":0.82},{"s":"3","k":"B","t":30,"v":0.872},{"s":"3","k":"B","t":40,"v":0.938},{"s":"3","k":"B","t":50,"v":0.954},{"s":"3","k":"B","t":60,"v":0.962},{"s":"3","k":"B","t":70,"v":0.966},{"s":"3","k":"B","t":80,"v":0.955},{"s":"3","k":"B","t":90,"v":0.94},{"s":"3","k":"B","t":100,"v":0.925},{"s":"3","k":"B","t":110,"v":0.91},{"s":"3","k":"B","t":120,"v":0.897},{"s":"3","k":"B","t":130,"v":0.88},{"s":"3","k":"B","t":140,"v":0.867},{"s":"3","k":"B","t":150,"v":0.861},{"s":"3","k":"B","t":160,"v":0.856},{"s":"3","k":"B","t":170,"v":0.851},{"s":"3","k":"B","t":180,"v":0.845},{"s":"3","k":"B","t":190,"v":0.84},{"s":"3","k":"B","t":200,"v":0.84},
      {"s":"4","k":"N","t":0,"v":-1.0},{"s":"4","k":"N","t":2,"v":-1.0},{"s":"4","k":"N","t":3,"v":-1.0},{"s":"4","k":"N","t":4,"v":-0.88},{"s":"4","k":"N","t":6,"v":-0.65},{"s":"4","k":"N","t":8,"v":-0.45},{"s":"4","k":"N","t":10,"v":-0.25},{"s":"4","k":"N","t":12,"v":-0.05},{"s":"4","k":"N","t":14,"v":0.1},{"s":"4","k":"N","t":16,"v":0.25},{"s":"4","k":"N","t":18,"v":0.34},{"s":"4","k":"N","t":20,"v":0.392},{"s":"4","k":"N","t":25,"v":0.49},{"s":"4","k":"N","t":30,"v":0.552},{"s":"4","k":"N","t":40,"v":0.626},{"s":"4","k":"N","t":50,"v":0.643},{"s":"4","k":"N","t":60,"v":0.651},{"s":"4","k":"N","t":70,"v":0.656},{"s":"4","k":"N","t":80,"v":0.655},{"s":"4","k":"N","t":90,"v":0.65},{"s":"4","k":"N","t":100,"v":0.645},{"s":"4","k":"N","t":110,"v":0.64},{"s":"4","k":"N","t":120,"v":0.635},{"s":"4","k":"N","t":130,"v":0.635},{"s":"4","k":"N","t":140,"v":0.627},{"s":"4","k":"N","t":150,"v":0.627},{"s":"4","k":"N","t":160,"v":0.619},{"s":"4","k":"N","t":170,"v":0.615},{"s":"4","k":"N","t":180,"v":0.606},{"s":"4","k":"N","t":190,"v":0.61},{"s":"4","k":"N","t":200,"v":0.61},
      {"s":"4","k":"B","t":0,"v":-1.0},{"s":"4","k":"B","t":2,"v":-1.0},{"s":"4","k":"B","t":3,"v":-1.0},{"s":"4","k":"B","t":4,"v":-0.8},{"s":"4","k":"B","t":5,"v":-0.6},{"s":"4","k":"B","t":6,"v":-0.45},{"s":"4","k":"B","t":8,"v":-0.2},{"s":"4","k":"B","t":10,"v":0.02},{"s":"4","k":"B","t":12,"v":0.3},{"s":"4","k":"B","t":14,"v":0.5},{"s":"4","k":"B","t":16,"v":0.62},{"s":"4","k":"B","t":18,"v":0.72},{"s":"4","k":"B","t":20,"v":0.818},{"s":"4","k":"B","t":25,"v":0.98},{"s":"4","k":"B","t":30,"v":1.1},{"s":"4","k":"B","t":35,"v":1.16},{"s":"4","k":"B","t":40,"v":1.2},{"s":"4","k":"B","t":50,"v":1.241},{"s":"4","k":"B","t":60,"v":1.254},{"s":"4","k":"B","t":70,"v":1.257},{"s":"4","k":"B","t":80,"v":1.25},{"s":"4","k":"B","t":90,"v":1.24},{"s":"4","k":"B","t":100,"v":1.225},{"s":"4","k":"B","t":110,"v":1.205},{"s":"4","k":"B","t":120,"v":1.188},{"s":"4","k":"B","t":130,"v":1.175},{"s":"4","k":"B","t":140,"v":1.167},{"s":"4","k":"B","t":150,"v":1.159},{"s":"4","k":"B","t":160,"v":1.147},{"s":"4","k":"B","t":170,"v":1.142},{"s":"4","k":"B","t":180,"v":1.137},{"s":"4","k":"B","t":190,"v":1.134},{"s":"4","k":"B","t":200,"v":1.129},
      {"s":"5","k":"N","t":0,"v":-1.0},{"s":"5","k":"N","t":2,"v":-1.0},{"s":"5","k":"N","t":3,"v":-1.0},{"s":"5","k":"N","t":4,"v":-0.9},{"s":"5","k":"N","t":6,"v":-0.7},{"s":"5","k":"N","t":8,"v":-0.45},{"s":"5","k":"N","t":10,"v":-0.253},{"s":"5","k":"N","t":12,"v":-0.05},{"s":"5","k":"N","t":14,"v":0.12},{"s":"5","k":"N","t":16,"v":0.22},{"s":"5","k":"N","t":18,"v":0.3},{"s":"5","k":"N","t":20,"v":0.364},{"s":"5","k":"N","t":25,"v":0.55},{"s":"5","k":"N","t":30,"v":0.687},{"s":"5","k":"N","t":35,"v":0.77},{"s":"5","k":"N","t":40,"v":0.831},{"s":"5","k":"N","t":50,"v":0.889},{"s":"5","k":"N","t":60,"v":0.913},{"s":"5","k":"N","t":70,"v":0.93},{"s":"5","k":"N","t":80,"v":0.93},{"s":"5","k":"N","t":90,"v":0.925},{"s":"5","k":"N","t":100,"v":0.92},{"s":"5","k":"N","t":110,"v":0.915},{"s":"5","k":"N","t":120,"v":0.913},{"s":"5","k":"N","t":130,"v":0.913},{"s":"5","k":"N","t":140,"v":0.908},{"s":"5","k":"N","t":150,"v":0.905},{"s":"5","k":"N","t":160,"v":0.9},{"s":"5","k":"N","t":170,"v":0.898},{"s":"5","k":"N","t":180,"v":0.895},{"s":"5","k":"N","t":190,"v":0.893},{"s":"5","k":"N","t":200,"v":0.892},
      {"s":"5","k":"B","t":0,"v":-1.0},{"s":"5","k":"B","t":2,"v":-1.0},{"s":"5","k":"B","t":3,"v":-1.0},{"s":"5","k":"B","t":4,"v":-0.85},{"s":"5","k":"B","t":6,"v":-0.6},{"s":"5","k":"B","t":8,"v":-0.35},{"s":"5","k":"B","t":10,"v":-0.12},{"s":"5","k":"B","t":11,"v":0.04},{"s":"5","k":"B","t":12,"v":0.17},{"s":"5","k":"B","t":14,"v":0.43},{"s":"5","k":"B","t":16,"v":0.52},{"s":"5","k":"B","t":18,"v":0.57},{"s":"5","k":"B","t":20,"v":0.618},{"s":"5","k":"B","t":22,"v":0.8},{"s":"5","k":"B","t":25,"v":0.95},{"s":"5","k":"B","t":30,"v":1.052},{"s":"5","k":"B","t":35,"v":1.18},{"s":"5","k":"B","t":40,"v":1.266},{"s":"5","k":"B","t":50,"v":1.344},{"s":"5","k":"B","t":60,"v":1.389},{"s":"5","k":"B","t":70,"v":1.397},{"s":"5","k":"B","t":80,"v":1.39},{"s":"5","k":"B","t":90,"v":1.38},{"s":"5","k":"B","t":100,"v":1.37},{"s":"5","k":"B","t":110,"v":1.36},{"s":"5","k":"B","t":120,"v":1.347},{"s":"5","k":"B","t":130,"v":1.331},{"s":"5","k":"B","t":140,"v":1.322},{"s":"5","k":"B","t":150,"v":1.311},{"s":"5","k":"B","t":160,"v":1.301},{"s":"5","k":"B","t":170,"v":1.293},{"s":"5","k":"B","t":180,"v":1.285},{"s":"5","k":"B","t":190,"v":1.278},{"s":"5","k":"B","t":200,"v":1.273}
    ]
  },
  "vconcat": [
    {
      "width": 1024, "height": 713,
      "title": {"text": "(a)"},
      "resolve": {"axis": {"x": "independent", "y": "independent"}},
      "layer": [
        {"data": {"name": "ax"}, "mark": {"type": "point", "opacity": 0},
         "encoding": {
           "x": {"field": "t", "type": "quantitative", "scale": {"domain": [0, 200], "nice": false, "zero": false},
                 "axis": {"orient": "bottom", "values": [0,4,8,12,16,20,24,28,32,36,40,44,48,52,56,60,64,68,72,76,80,84,88,92,96,100,104,108,112,116,120,124,128,132,136,140,144,148,152,156,160,164,168,172,176,180,184,188,192,196,200], "labels": false, "title": null, "tickSize": {"condition": {"test": "datum.value % 20 === 0", "value": -8}, "value": -4}}},
           "y": {"field": "v", "type": "quantitative", "scale": {"domain": [-1, 2], "nice": false, "zero": false},
                 "axis": {"orient": "left", "values": [-1,-0.9,-0.8,-0.7,-0.6,-0.5,-0.4,-0.3,-0.2,-0.1,0,0.1,0.2,0.3,0.4,0.5,0.6,0.7,0.8,0.9,1,1.1,1.2,1.3,1.4,1.5,1.6,1.7,1.8,1.9,2],
                          "labelExpr": "abs(round(datum.value*10)) % 5 === 0 ? (datum.value < 0 ? '-' + format(-datum.value, '~g') : format(datum.value, '~g')) : ''",
                          "tickSize": {"condition": {"test": "abs(round(datum.value*10)) % 5 === 0", "value": -8}, "value": -4},
                          "labelPadding": 25, "title": "Γd /Γ₀", "titlePadding": 48}}}},
        {"data": {"name": "ax"}, "mark": {"type": "point", "opacity": 0},
         "encoding": {
           "x": {"field": "t", "type": "quantitative",
                 "axis": {"orient": "top", "values": [0,4,8,12,16,20,24,28,32,36,40,44,48,52,56,60,64,68,72,76,80,84,88,92,96,100,104,108,112,116,120,124,128,132,136,140,144,148,152,156,160,164,168,172,176,180,184,188,192,196,200], "labels": false, "title": null, "tickSize": {"condition": {"test": "datum.value % 20 === 0", "value": -8}, "value": -4}}},
           "y": {"field": "v", "type": "quantitative",
                 "axis": {"orient": "right", "values": [-1,-0.9,-0.8,-0.7,-0.6,-0.5,-0.4,-0.3,-0.2,-0.1,0,0.1,0.2,0.3,0.4,0.5,0.6,0.7,0.8,0.9,1,1.1,1.2,1.3,1.4,1.5,1.6,1.7,1.8,1.9,2], "labels": false, "title": null,
                          "tickSize": {"condition": {"test": "abs(round(datum.value*10)) % 5 === 0", "value": -8}, "value": -4}}}}},
        {"data": {"name": "zero"}, "mark": {"type": "rule", "color": "#555", "strokeDash": [7, 7], "strokeWidth": 1.5},
         "encoding": {"y": {"field": "v", "type": "quantitative", "axis": null}}},
        {"data": {"name": "la"}, "mark": {"type": "line", "strokeWidth": 2, "clip": true},
         "encoding": {
           "x": {"field": "t", "type": "quantitative", "axis": null},
           "y": {"field": "v", "type": "quantitative", "axis": null},
           "color": {"field": "s", "type": "nominal", "legend": null, "scale": {"domain": ["0.01","0.1","1","2","3","4","5","10","gas"], "range": ["#e8174f","#3bb54a","#1b87cf","#9124b9","#00827b","#f58b33","#010180","#7f0000","#3d3d3d"]}},
           "detail": {"field": "k"}}},
        {"data": {"name": "la"}, "transform": [{"filter": "datum.k == 'B' && datum.t % 10 == 0 && datum.t > 0"}],
         "mark": {"type": "point", "filled": false, "size": 230, "strokeWidth": 2, "opacity": 1},
         "encoding": {
           "x": {"field": "t", "type": "quantitative", "axis": null},
           "y": {"field": "v", "type": "quantitative", "axis": null},
           "color": {"field": "s", "type": "nominal", "legend": null}}},
        {"data": {"name": "la"}, "transform": [{"filter": "datum.k != 'B' && datum.t % 10 == 0 && datum.t > 0"}],
         "mark": {"type": "point", "filled": true, "size": 260, "opacity": 1},
         "encoding": {
           "x": {"field": "t", "type": "quantitative", "axis": null},
           "y": {"field": "v", "type": "quantitative", "axis": null},
           "color": {"field": "s", "type": "nominal", "legend": null}}},
        {"data": {"name": "labels"}, "transform": [{"filter": "datum.p == 'a'"}],
         "mark": {"type": "text", "font": "Liberation Serif", "fontSize": 21},
         "encoding": {
           "x": {"field": "t", "type": "quantitative", "axis": null},
           "y": {"field": "v", "type": "quantitative", "axis": null},
           "text": {"field": "txt"},
           "color": {"field": "s", "type": "nominal", "legend": null}}},
        {"data": {"name": "leg"},
         "mark": {"type": "text", "font": "Liberation Serif", "fontSize": 28, "align": "right", "color": "#111"},
         "encoding": {
           "x": {"field": "tt", "type": "quantitative", "axis": null},
           "y": {"field": "v", "type": "quantitative", "axis": null},
           "text": {"field": "txt"}}},
        {"data": {"name": "leg"}, "transform": [{"filter": "datum.k == 'B'"}],
         "mark": {"type": "point", "filled": false, "size": 230, "strokeWidth": 2, "color": "#111", "opacity": 1},
         "encoding": {
           "x": {"field": "ts", "type": "quantitative", "axis": null},
           "y": {"field": "v", "type": "quantitative", "axis": null}}},
        {"data": {"name": "leg"}, "transform": [{"filter": "datum.k == 'B'"}],
         "mark": {"type": "point", "filled": true, "size": 6, "color": "#111", "opacity": 1},
         "encoding": {
           "x": {"field": "ts", "type": "quantitative", "axis": null},
           "y": {"field": "v", "type": "quantitative", "axis": null}}},
        {"data": {"name": "leg"}, "transform": [{"filter": "datum.k == 'N'"}],
         "mark": {"type": "point", "filled": true, "size": 260, "color": "#3d3d3d", "opacity": 1},
         "encoding": {
           "x": {"field": "ts", "type": "quantitative", "axis": null},
           "y": {"field": "v", "type": "quantitative", "axis": null}}}
      ]
    },
    {
      "width": 1024, "height": 713,
      "title": {"text": "(b)"},
      "resolve": {"axis": {"x": "independent", "y": "independent"}},
      "layer": [
        {"data": {"name": "ax"}, "mark": {"type": "point", "opacity": 0},
         "encoding": {
           "x": {"field": "t", "type": "quantitative", "scale": {"domain": [0, 200], "nice": false, "zero": false},
                 "axis": {"orient": "bottom", "values": [0,4,8,12,16,20,24,28,32,36,40,44,48,52,56,60,64,68,72,76,80,84,88,92,96,100,104,108,112,116,120,124,128,132,136,140,144,148,152,156,160,164,168,172,176,180,184,188,192,196,200], "labels": false, "title": null, "tickSize": {"condition": {"test": "datum.value % 20 === 0", "value": -8}, "value": -4}}},
           "y": {"field": "v", "type": "quantitative", "scale": {"domain": [-1.4, 0.2], "nice": false, "zero": false},
                 "axis": {"orient": "left", "values": [-1.4,-1.36,-1.32,-1.28,-1.24,-1.2,-1.16,-1.12,-1.08,-1.04,-1,-0.96,-0.92,-0.88,-0.84,-0.8,-0.76,-0.72,-0.68,-0.64,-0.6,-0.56,-0.52,-0.48,-0.44,-0.4,-0.36,-0.32,-0.28,-0.24,-0.2,-0.16,-0.12,-0.08,-0.04,0,0.04,0.08,0.12,0.16,0.2],
                          "labelExpr": "abs(round(datum.value*100)) % 20 === 0 ? (datum.value < 0 ? '-' + format(-datum.value, '~g') : format(datum.value, '~g')) : ''",
                          "tickSize": {"condition": {"test": "abs(round(datum.value*100)) % 20 === 0", "value": -8}, "value": -4},
                          "labelPadding": 25, "title": "Γg /Γ₀", "titlePadding": 48}}}},
        {"data": {"name": "ax"}, "mark": {"type": "point", "opacity": 0},
         "encoding": {
           "x": {"field": "t", "type": "quantitative",
                 "axis": {"orient": "top", "values": [0,4,8,12,16,20,24,28,32,36,40,44,48,52,56,60,64,68,72,76,80,84,88,92,96,100,104,108,112,116,120,124,128,132,136,140,144,148,152,156,160,164,168,172,176,180,184,188,192,196,200], "labels": false, "title": null, "tickSize": {"condition": {"test": "datum.value % 20 === 0", "value": -8}, "value": -4}}},
           "y": {"field": "v", "type": "quantitative",
                 "axis": {"orient": "right", "values": [-1.4,-1.36,-1.32,-1.28,-1.24,-1.2,-1.16,-1.12,-1.08,-1.04,-1,-0.96,-0.92,-0.88,-0.84,-0.8,-0.76,-0.72,-0.68,-0.64,-0.6,-0.56,-0.52,-0.48,-0.44,-0.4,-0.36,-0.32,-0.28,-0.24,-0.2,-0.16,-0.12,-0.08,-0.04,0,0.04,0.08,0.12,0.16,0.2], "labels": false, "title": null,
                          "tickSize": {"condition": {"test": "abs(round(datum.value*100)) % 20 === 0", "value": -8}, "value": -4}}}}},
        {"data": {"name": "zero"}, "mark": {"type": "rule", "color": "#555", "strokeDash": [7, 7], "strokeWidth": 1.5},
         "encoding": {"y": {"field": "v", "type": "quantitative", "axis": null}}},
        {"data": {"name": "lb"}, "mark": {"type": "line", "strokeWidth": 2, "clip": true},
         "encoding": {
           "x": {"field": "t", "type": "quantitative", "axis": null},
           "y": {"field": "v", "type": "quantitative", "axis": null},
           "color": {"field": "s", "type": "nominal", "legend": null, "scale": {"domain": ["0.01","0.1","1","2","3","4","5","10","gas"], "range": ["#e8174f","#3bb54a","#1b87cf","#9124b9","#00827b","#f58b33","#010180","#7f0000","#3d3d3d"]}},
           "detail": {"field": "k"}}},
        {"data": {"name": "lb"}, "transform": [{"filter": "datum.k != 'B' && datum.t % 10 == 0 && datum.t > 0"}],
         "mark": {"type": "point", "filled": true, "size": 260, "opacity": 1},
         "encoding": {
           "x": {"field": "t", "type": "quantitative", "axis": null},
           "y": {"field": "v", "type": "quantitative", "axis": null},
           "color": {"field": "s", "type": "nominal", "legend": null}}},
        {"data": {"name": "lb"}, "transform": [{"filter": "datum.k == 'B' && datum.t % 10 == 0 && datum.t > 0"}],
         "mark": {"type": "point", "filled": false, "size": 230, "strokeWidth": 2, "opacity": 1},
         "encoding": {
           "x": {"field": "t", "type": "quantitative", "axis": null},
           "y": {"field": "v", "type": "quantitative", "axis": null},
           "color": {"field": "s", "type": "nominal", "legend": null}}},
        {"data": {"name": "labels"}, "transform": [{"filter": "datum.p == 'b'"}],
         "mark": {"type": "text", "font": "Liberation Serif", "fontSize": 21},
         "encoding": {
           "x": {"field": "t", "type": "quantitative", "axis": null},
           "y": {"field": "v", "type": "quantitative", "axis": null},
           "text": {"field": "txt"},
           "color": {"field": "s", "type": "nominal", "legend": null}}}
      ]
    },
    {
      "width": 1024, "height": 713,
      "title": {"text": "(c)"},
      "resolve": {"axis": {"x": "independent", "y": "independent"}},
      "layer": [
        {"data": {"name": "ax"}, "mark": {"type": "point", "opacity": 0},
         "encoding": {
           "x": {"field": "t", "type": "quantitative", "scale": {"domain": [0, 200], "nice": false, "zero": false},
                 "axis": {"orient": "bottom", "values": [0,4,8,12,16,20,24,28,32,36,40,44,48,52,56,60,64,68,72,76,80,84,88,92,96,100,104,108,112,116,120,124,128,132,136,140,144,148,152,156,160,164,168,172,176,180,184,188,192,196,200],
                          "labelExpr": "datum.value % 20 === 0 && datum.value > 0 ? datum.label : ''",
                          "labelPadding": 14, "title": "time (number of orbits)", "titlePadding": 14,
                          "tickSize": {"condition": {"test": "datum.value % 20 === 0", "value": -8}, "value": -4}}},
           "y": {"field": "v", "type": "quantitative", "scale": {"domain": [-2, 1.5], "nice": false, "zero": false},
                 "axis": {"orient": "left", "values": [-2,-1.9,-1.8,-1.7,-1.6,-1.5,-1.4,-1.3,-1.2,-1.1,-1,-0.9,-0.8,-0.7,-0.6,-0.5,-0.4,-0.3,-0.2,-0.1,0,0.1,0.2,0.3,0.4,0.5,0.6,0.7,0.8,0.9,1,1.1,1.2,1.3,1.4,1.5],
                          "labelExpr": "abs(round(datum.value*10)) % 5 === 0 ? (datum.value < 0 ? '-' + format(-datum.value, '~g') : format(datum.value, '~g')) : ''",
                          "tickSize": {"condition": {"test": "abs(round(datum.value*10)) % 5 === 0", "value": -8}, "value": -4},
                          "labelPadding": 25, "title": "(Γg +Γd)/Γ₀", "titlePadding": 48}}}},
        {"data": {"name": "ax"}, "mark": {"type": "point", "opacity": 0},
         "encoding": {
           "x": {"field": "t", "type": "quantitative",
                 "axis": {"orient": "top", "values": [0,4,8,12,16,20,24,28,32,36,40,44,48,52,56,60,64,68,72,76,80,84,88,92,96,100,104,108,112,116,120,124,128,132,136,140,144,148,152,156,160,164,168,172,176,180,184,188,192,196,200], "labels": false, "title": null, "tickSize": {"condition": {"test": "datum.value % 20 === 0", "value": -8}, "value": -4}}},
           "y": {"field": "v", "type": "quantitative",
                 "axis": {"orient": "right", "values": [-2,-1.9,-1.8,-1.7,-1.6,-1.5,-1.4,-1.3,-1.2,-1.1,-1,-0.9,-0.8,-0.7,-0.6,-0.5,-0.4,-0.3,-0.2,-0.1,0,0.1,0.2,0.3,0.4,0.5,0.6,0.7,0.8,0.9,1,1.1,1.2,1.3,1.4,1.5], "labels": false, "title": null,
                          "tickSize": {"condition": {"test": "abs(round(datum.value*10)) % 5 === 0", "value": -8}, "value": -4}}}}},
        {"data": {"name": "zero"}, "mark": {"type": "rule", "color": "#555", "strokeDash": [7, 7], "strokeWidth": 1.5},
         "encoding": {"y": {"field": "v", "type": "quantitative", "axis": null}}},
        {"data": {"name": "lc"}, "mark": {"type": "line", "strokeWidth": 2, "clip": true},
         "encoding": {
           "x": {"field": "t", "type": "quantitative", "axis": null},
           "y": {"field": "v", "type": "quantitative", "axis": null},
           "color": {"field": "s", "type": "nominal", "legend": null, "scale": {"domain": ["0.01","0.1","1","2","3","4","5","10","gas"], "range": ["#e8174f","#3bb54a","#1b87cf","#9124b9","#00827b","#f58b33","#010180","#7f0000","#3d3d3d"]}},
           "detail": {"field": "k"}}},
        {"data": {"name": "lc"}, "transform": [{"filter": "datum.k == 'B' && datum.t % 10 == 0 && datum.t > 0"}],
         "mark": {"type": "point", "filled": false, "size": 230, "strokeWidth": 2, "opacity": 1},
         "encoding": {
           "x": {"field": "t", "type": "quantitative", "axis": null},
           "y": {"field": "v", "type": "quantitative", "axis": null},
           "color": {"field": "s", "type": "nominal", "legend": null}}},
        {"data": {"name": "lc"}, "transform": [{"filter": "datum.k != 'B' && datum.t % 10 == 0 && datum.t > 0"}],
         "mark": {"type": "point", "filled": true, "size": 260, "opacity": 1},
         "encoding": {
           "x": {"field": "t", "type": "quantitative", "axis": null},
           "y": {"field": "v", "type": "quantitative", "axis": null},
           "color": {"field": "s", "type": "nominal", "legend": null}}},
        {"data": {"name": "labels"}, "transform": [{"filter": "datum.p == 'c'"}],
         "mark": {"type": "text", "font": "Liberation Serif", "fontSize": 21},
         "encoding": {
           "x": {"field": "t", "type": "quantitative", "axis": null},
           "y": {"field": "v", "type": "quantitative", "axis": null},
           "text": {"field": "txt"},
           "color": {"field": "s", "type": "nominal", "legend": null}}}
      ]
    }
  ]
}
